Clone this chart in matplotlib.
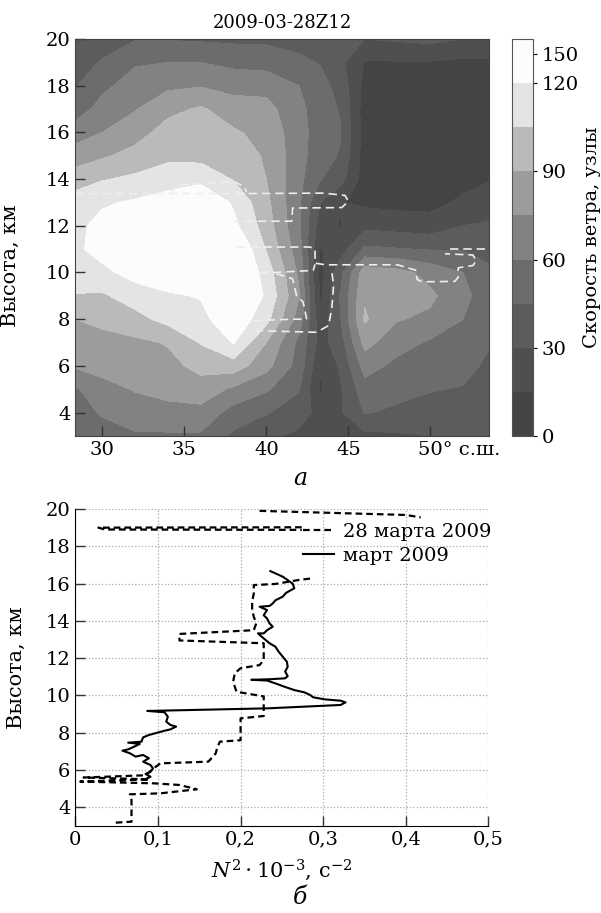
import numpy as np
import matplotlib
matplotlib.use('Agg')
import matplotlib.pyplot as plt
from matplotlib.colors import ListedColormap, BoundaryNorm
import matplotlib.transforms as mtransforms

plt.rcParams['font.family'] = ['DejaVu Serif']
plt.rcParams['mathtext.fontset'] = 'dejavuserif'

# ---- panel a: wind speed (knots), latitude x height ----
lats = [28.35, 30, 32, 34, 36, 38, 40, 42, 43.3, 44.5, 46, 48, 50, 52, 53.6]
heights = list(range(3, 21))
# one profile per latitude, heights 3..20 km
speed_profiles = [
    [48, 52, 58, 77, 84, 90, 104, 114, 117, 116, 112, 98, 82, 68, 52, 44, 40, 36],
    [52, 62, 70, 80, 86, 93, 103, 116, 126, 125, 118, 104, 88, 75, 66, 56, 46, 40],
    [58, 68, 76, 82, 87, 100, 112, 126, 135, 132, 122, 108, 95, 84, 74, 68, 58, 44],
    [58, 70, 80, 86, 91, 110, 118, 130, 140, 138, 128, 112, 102, 96, 86, 72, 60, 44],
    [58, 70, 84, 94, 106, 115, 121, 135, 145, 142, 134, 116, 100, 98, 92, 74, 60, 43],
    [42, 54, 72, 98, 121, 132, 138, 140, 140, 124, 118, 104, 99, 92, 82, 70, 56, 42],
    [34, 46, 62, 80, 90, 110, 118, 114, 104, 98, 94, 90, 88, 85, 80, 70, 54, 42],
    [26, 38, 46, 54, 56, 68, 76, 72, 66, 62, 62, 64, 66, 66, 64, 60, 48, 40],
    [22, 24, 13, 16, 24, 20, 12, 10, 14, 22, 30, 46, 50, 52, 52, 50, 44, 38],
    [24, 28, 28, 32, 38, 44, 46, 40, 22, 14, 16, 36, 44, 46, 44, 40, 34, 34],
    [26, 46, 54, 66, 80, 92, 88, 84, 48, 26, 12, 8, 8, 8, 8, 10, 14, 30],
    [28, 42, 50, 56, 66, 76, 84, 80, 46, 24, 10, 6, 6, 6, 6, 8, 14, 32],
    [30, 38, 46, 54, 58, 72, 78, 70, 44, 22, 10, 6, 5, 5, 5, 6, 14, 34],
    [32, 36, 44, 50, 55, 60, 64, 60, 44, 30, 18, 10, 6, 5, 5, 6, 12, 30],
    [32, 32, 38, 42, 46, 50, 52, 48, 40, 32, 22, 14, 8, 6, 6, 8, 12, 28],
]
speed_levels = [0, 15, 30, 45, 60, 75, 90, 105, 120, 165]
cbar_ticks = [0, 30, 60, 90, 120, 150]

# white dashed contour fragments (lat, km)
dash_lat = [
    [28.35, 34.2, 38.8, 43.5, 44.8, 45.0, 44.6, 41.6, 41.55, 38.0],
    [34.2, 34.6, 36.0, 38.0, 38.6, 38.8],
    [38.2, 42.66, 42.97, 42.97, 43.6, 48.0, 49.1, 49.2, 49.5, 51.5, 51.7, 51.7, 52.6, 52.8, 52.6, 50.9],
    [51.2, 53.6],
    [39.6, 40.5, 42.86, 42.97],
    [40.6, 41.6, 41.85, 42.25, 42.46],
    [39.2, 41.64, 42.46],
    [39.3, 43.07, 43.8, 44.0, 44.1, 44.0],
]
dash_h = [
    [13.38, 13.38, 13.38, 13.4, 13.3, 13.05, 12.78, 12.76, 12.2, 12.19],
    [13.4, 13.75, 13.8, 13.9, 13.7, 13.45],
    [11.09, 11.09, 11.0, 10.4, 10.33, 10.33, 10.1, 9.7, 9.6, 9.62, 9.8, 10.2, 10.3, 10.5, 10.75, 10.8],
    [11.0, 11.0],
    [10.0, 10.0, 10.09, 10.35],
    [9.95, 9.73, 9.0, 8.73, 8.0],
    [7.94, 8.0, 8.0],
    [7.51, 7.44, 7.73, 8.5, 9.44, 10.0],
]

# ---- panel b: N^2 profiles ----
march_n2 = [0.236, 0.251, 0.263, 0.265, 0.255, 0.251, 0.242, 0.239, 0.235, 0.223, 0.232, 0.228,
            0.232, 0.235, 0.239, 0.232, 0.228, 0.221, 0.228, 0.235, 0.242, 0.246, 0.251, 0.256,
            0.257, 0.254, 0.257, 0.254, 0.235, 0.213, 0.232, 0.242, 0.253, 0.265, 0.277, 0.284,
            0.288, 0.302, 0.321, 0.327, 0.321, 0.233, 0.14, 0.087, 0.108, 0.112, 0.110, 0.115,
            0.122, 0.115, 0.108, 0.099, 0.089, 0.082, 0.080, 0.064, 0.078, 0.071, 0.064, 0.057,
            0.066, 0.073, 0.082, 0.089, 0.082, 0.091, 0.094, 0.091, 0.085, 0.091, 0.087]
march_h = [16.67, 16.37, 16.0, 15.75, 15.5, 15.3, 15.1, 14.94, 14.8, 14.76, 14.58, 14.3,
           14.13, 13.87, 13.69, 13.5, 13.33, 13.33, 13.06, 12.8, 12.62, 12.35, 12.08, 11.81,
           11.54, 11.28, 11.04, 10.92, 10.87, 10.84, 10.8, 10.65, 10.47, 10.29, 10.17, 10.03,
           9.9, 9.79, 9.72, 9.63, 9.49, 9.31, 9.22, 9.17, 9.1, 8.86, 8.6, 8.42,
           8.33, 8.18, 8.11, 8.0, 7.88, 7.75, 7.52, 7.47, 7.4, 7.25, 7.11, 7.04,
           6.9, 6.72, 6.81, 6.63, 6.45, 6.27, 6.09, 5.91, 5.79, 5.64, 5.56]

day_n2 = [0.049, 0.068, 0.068, 0.068, 0.066, 0.103, 0.147, 0.126, 0.094, 0.006, 0.09, 0.01,
          0.085, 0.098, 0.103, 0.161, 0.170, 0.172, 0.175, 0.200, 0.200, 0.200, 0.228, 0.228,
          0.228, 0.195, 0.191, 0.193, 0.200, 0.223, 0.228, 0.228, 0.228, 0.126, 0.126, 0.216,
          0.219, 0.216, 0.214, 0.214, 0.216, 0.216, 0.242, 0.270, 0.286]
day_h = [3.18, 3.23, 3.86, 4.4, 4.7, 4.75, 4.97, 5.2, 5.29, 5.38, 5.5, 5.6,
         5.72, 6.2, 6.36, 6.45, 6.9, 7.25, 7.52, 7.6, 8.33, 8.77, 8.9, 9.76,
         9.95, 10.2, 10.74, 11.19, 11.46, 11.63, 11.9, 12.6, 12.8, 12.95, 13.3, 13.5,
         13.87, 14.22, 14.58, 15.03, 15.48, 15.92, 15.98, 16.19, 16.28]
# upper fragments of the same profile
day_top_n2 = [[0.274, 0.028, 0.036, 0.274], [0.223, 0.40, 0.418]]
day_top_h = [[19.02, 19.0, 18.9, 18.88], [19.9, 19.68, 19.55]]

gray_colors = ['#444444', '#4f4f4f', '#5c5c5c', '#6c6c6c', '#828282',
               '#9c9c9c', '#bababa', '#e4e4e4', '#fcfcfc']

fig = plt.figure(figsize=(6.01, 9.13), dpi=100)
ax1 = fig.add_axes([0.1253, 0.5225, 0.6889, 0.4348])
cax = fig.add_axes([0.8524, 0.5225, 0.034, 0.4348])
ax2 = fig.add_axes([0.1253, 0.0953, 0.6875, 0.3472])

# panel a
speed = np.array(speed_profiles).T
cmap = ListedColormap(gray_colors)
norm = BoundaryNorm(speed_levels, cmap.N)
cf = ax1.contourf(lats, heights, speed, levels=speed_levels, cmap=cmap, norm=norm)
for la, hh in zip(dash_lat, dash_h):
    ax1.plot(la, hh, color='#eeeeee', lw=1.2, linestyle=(0, (5, 3)))
ax1.set_xlim(28.35, 53.6)
ax1.set_ylim(3, 20)
ax1.set_xticks([30, 35, 40, 45, 50])
ax1.set_xticklabels(['30', '35', '40', '45', ''])
ax1.set_yticks(range(4, 21, 2))
ax1.tick_params(direction='in', length=7, width=1, labelsize=14, color='#333333')
for s in ax1.spines.values():
    s.set_color('#444444')
ax1.set_title('2009-03-28Z12', fontsize=13, pad=8)
ax1.set_ylabel('Высота, км', fontsize=15)
ax1.yaxis.set_label_coords(-0.135, 0.43)
offset = mtransforms.ScaledTranslation(-0.12, 0, fig.dpi_scale_trans)
ax1.text(50, -0.012, '50° с.ш.', transform=ax1.get_xaxis_transform() + offset,
         ha='left', va='top', fontsize=14)

cb = fig.colorbar(cf, cax=cax, ticks=cbar_ticks)
cb.ax.minorticks_off()
cb.ax.tick_params(labelsize=14, length=3, direction='out')
cb.outline.set_edgecolor('#555555')
cb.set_label('Скорость ветра, узлы', fontsize=14, labelpad=3)
fig.text(0.499, 0.4754, 'а', ha='center', va='center', fontsize=17, style='italic')

# panel b
ax2.plot(day_n2, day_h, color='black', lw=1.6, linestyle=(0, (3, 1.8)),
         label='28 марта 2009')
for nn, hh in zip(day_top_n2, day_top_h):
    ax2.plot(nn, hh, color='black', lw=1.6, linestyle=(0, (3, 1.8)))
ax2.plot(march_n2, march_h, color='black', lw=1.5, label='март 2009')
ax2.set_xlim(0, 0.5)
ax2.set_ylim(3, 20)
ax2.set_xticks([0, 0.1, 0.2, 0.3, 0.4, 0.5])
ax2.set_xticklabels(['0', '0,1', '0,2', '0,3', '0,4', '0,5'])
ax2.set_yticks(range(4, 21, 2))
ax2.grid(True, linestyle=':', color='#aaaaaa', lw=0.9)
ax2.spines['top'].set_visible(False)
ax2.spines['right'].set_visible(False)
ax2.tick_params(direction='in', length=7, width=1, labelsize=14, color='#333333')
ax2.set_ylabel('Высота, км', fontsize=15)
ax2.yaxis.set_label_coords(-0.12, 0.5)
ax2.set_xlabel(r'$N^2\cdot10^{-3}$, с$^{-2}$', fontsize=15, labelpad=6)
ax2.legend(loc='upper left', bbox_to_anchor=(0.55, 0.955), frameon=False,
           fontsize=14, handlelength=1.6, handletextpad=0.5, labelspacing=0.3,
           borderaxespad=0, borderpad=0)
fig.text(0.499, 0.0175, 'б', ha='center', va='center', fontsize=17, style='italic')

fig.savefig('out.png', dpi=100)
